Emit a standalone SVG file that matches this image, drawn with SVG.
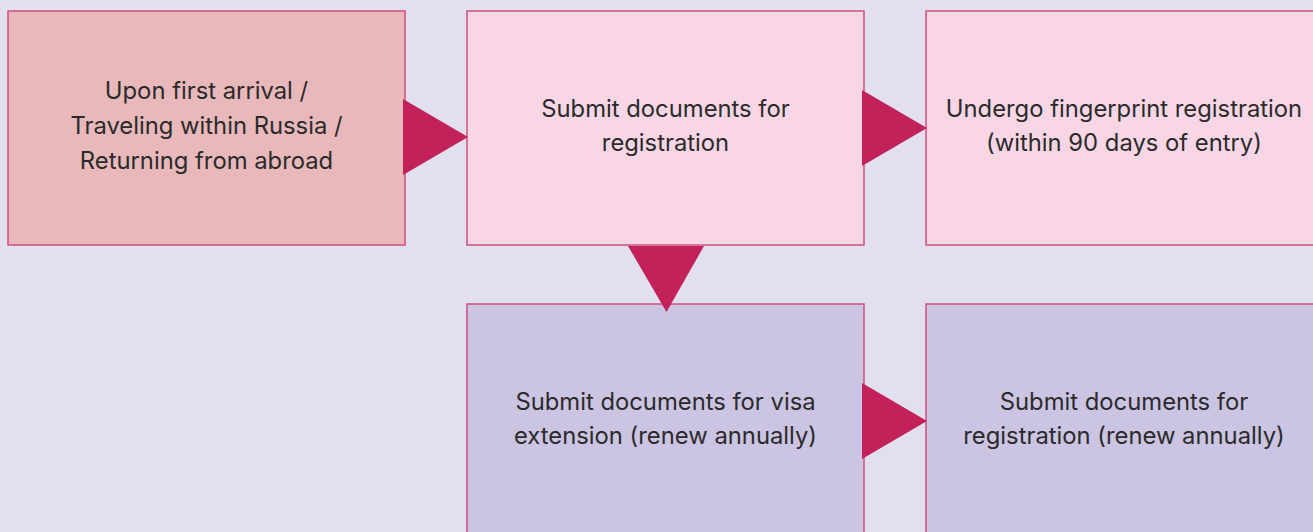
<svg xmlns="http://www.w3.org/2000/svg" width="1313" height="532" viewBox="0 0 1313 532">
<style>
.bg{fill:#e2e0ef}
.box{stroke:#cf4f7d;stroke-width:1.5}
.start{fill:#e8b8ba}
.pink{fill:#f9d6e6}
.purple{fill:#cbc4e2}
.arrow{fill:#c2215a}
text{font-family:Inter,"Liberation Sans",sans-serif;font-size:23.8px;fill:#2b2b2b;text-anchor:middle}
</style>
<rect class="bg" x="0" y="0" width="1313" height="532"/>
<g id="n1"><rect class="box start" x="8" y="11" width="397" height="234"/>
<text x="206.5" y="99">Upon first arrival /</text>
<text x="206.5" y="134">Traveling within Russia /</text>
<text x="206.5" y="168.5">Returning from abroad</text></g>
<g id="n2"><rect class="box pink" x="467" y="11" width="397" height="234"/>
<text x="665.5" y="117">Submit documents for</text>
<text x="665.5" y="151">registration</text></g>
<g id="n3"><rect class="box pink" x="926" y="11" width="397" height="234"/>
<text x="1124" y="117">Undergo fingerprint registration</text>
<text x="1124" y="151">(within 90 days of entry)</text></g>
<g id="n4"><rect class="box purple" x="467" y="304" width="397" height="240"/>
<text x="665.5" y="409.5">Submit documents for visa</text>
<text x="665.5" y="443.5">extension (renew annually)</text></g>
<g id="n5"><rect class="box purple" x="926" y="304" width="397" height="240"/>
<text x="1124" y="409.5">Submit documents for</text>
<text x="1124" y="443.5">registration (renew annually)</text></g>
<g id="connectors">
<polygon class="arrow" points="403,99 403,175 468,137"/>
<polygon class="arrow" points="628,246 704,246 666.5,312"/>
<polygon class="arrow" points="862,90 862,166 927,128"/>
<polygon class="arrow" points="862,383 862,459 927,421"/>
</g>
</svg>
